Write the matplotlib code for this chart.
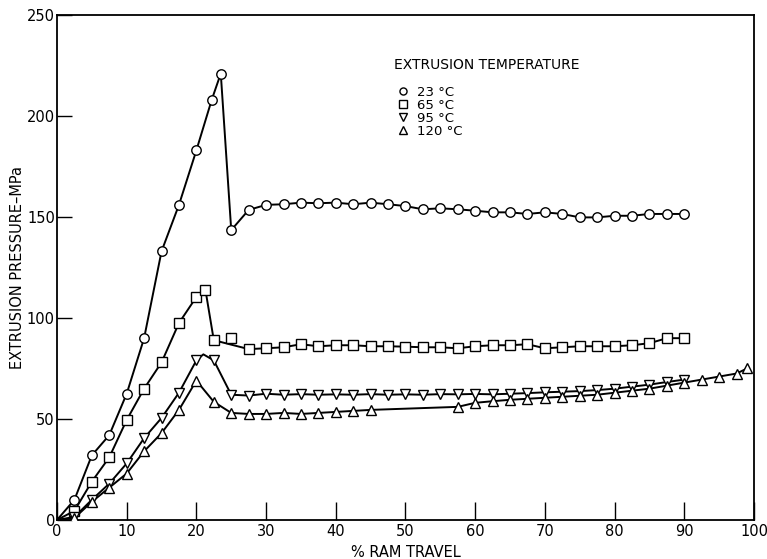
import matplotlib
matplotlib.use('Agg')
import matplotlib.pyplot as plt

# 23 C
x_23 = [2.5, 5, 7.5, 10, 12.5, 15, 17.5, 20, 22.2, 23.5, 25, 27.5, 30,
        32.5, 35, 37.5, 40, 42.5, 45, 47.5, 50, 52.5, 55, 57.5, 60, 62.5,
        65, 67.5, 70, 72.5, 75, 77.5, 80, 82.5, 85, 87.5, 90]
y_23 = [10, 32, 42, 62.5, 90, 133, 156, 183, 208, 221, 143.5, 153.5, 156,
        156.3, 157.1, 156.8, 157.1, 156.3, 157.1, 156.3, 155.4, 153.8, 154.3, 153.8, 153.1, 152.3,
        152.3, 151.5, 152.3, 151.5, 149.8, 149.8, 150.6, 150.6, 151.5, 151.5, 151.5]

# 65 C
x_65 = [2.5, 5, 7.5, 10, 12.5, 15, 17.5, 20, 21.3, 22.5, 25, 27.5, 30,
        32.5, 35, 37.5, 40, 42.5, 45, 47.5, 50, 52.5, 55, 57.5, 60, 62.5,
        65, 67.5, 70, 72.5, 75, 77.5, 80, 82.5, 85, 87.5, 90]
y_65 = [4.5, 19, 31, 49.5, 65, 78, 97.5, 110.4, 113.9, 89, 90, 84.6, 85,
        85.5, 87, 86, 86.5, 86.5, 86, 86, 85.8, 85.5, 85.5, 85, 86, 86.5,
        86.5, 87, 85, 85.5, 86, 86, 86, 86.5, 87.5, 90, 90]
off_curve_65 = [25]  # point plotted off the drawn curve

# 95 C
x_95 = [2.5, 5, 7.5, 10, 12.5, 15, 17.5, 20, 22.5, 25, 27.5, 30,
        32.5, 35, 37.5, 40, 42.5, 45, 47.5, 50, 52.5, 55, 57.5, 60, 62.5,
        65, 67.5, 70, 72.5, 75, 77.5, 80, 82.5, 85, 87.5, 90]
y_95 = [1.5, 10, 18, 28, 40.5, 50.5, 63, 79, 79, 62, 61.6, 62.5,
        62, 62.3, 62, 62.2, 62, 62.3, 62, 62.2, 62, 62.3, 62.2, 62.4, 62.2,
        62.5, 62.8, 63.2, 63.5, 63.8, 64.3, 65, 66, 67, 68.3, 69.5]
peak_95 = (21, 82)  # top of the drawn curve

# 120 C
x_120 = [2.5, 5, 7.5, 10, 12.5, 15, 17.5, 20, 22.5, 25, 27.5, 30,
         32.5, 35, 37.5, 40, 42.5, 45, 57.5, 60, 62.5, 65, 67.5, 70, 72.5,
         75, 77.5, 80, 82.5, 85, 87.5, 90, 92.5, 95, 97.5, 99]
y_120 = [1, 9, 16, 23, 34, 43, 54.5, 69, 58.5, 53, 52.5, 52.5,
         53, 52.5, 53, 53.5, 54, 54.5, 56, 58, 58.8, 59.5, 60, 60.5, 61,
         61.5, 62, 63, 64, 65, 66.5, 68, 69.5, 71, 72.5, 75]

labels = ['23 °C', '65 °C', '95 °C', '120 °C']
markers = ['o', 's', 'v', '^']

plt.rcParams['font.family'] = 'DejaVu Sans'
fig = plt.figure(figsize=(7.67, 5.59), dpi=100)
ax = fig.add_axes([0.0743, 0.0698, 0.9087, 0.9034])

series = [(x_23, y_23), (x_65, y_65), (x_95, y_95), (x_120, y_120)]
for i, (xs, ys) in enumerate(series):
    lx = [0] + [x for x in xs if not (i == 1 and x in off_curve_65)]
    ly = [0] + [y for x, y in zip(xs, ys) if not (i == 1 and x in off_curve_65)]
    if i == 2:
        k = lx.index(22.5)
        lx.insert(k, peak_95[0])
        ly.insert(k, peak_95[1])
    ax.plot(lx, ly, color='black', linewidth=1.4, zorder=2)
    ax.plot(xs, ys, linestyle='none', marker=markers[i], markersize=6.8,
            markerfacecolor='white', markeredgecolor='black',
            markeredgewidth=1.0, zorder=3, label=labels[i])

ax.set_xlim(0, 100)
ax.set_ylim(0, 250)
ax.set_xticks(range(0, 101, 10))
ax.set_yticks(range(0, 251, 50))
ax.tick_params(direction='in', length=13, width=1.0, labelsize=10.5)
ax.tick_params(axis='y', length=11, pad=1.5)
ax.tick_params(axis='x', pad=3)
for s in ax.spines.values():
    s.set_linewidth(1.3)

ax.set_xlabel('% RAM TRAVEL', fontsize=10.5, labelpad=4)
ax.set_ylabel('EXTRUSION PRESSURE–MPa', fontsize=10.5, labelpad=1)

ax.text(48.4, 225, 'EXTRUSION TEMPERATURE', fontsize=10, va='center', ha='left')
leg = ax.legend(loc='upper left', bbox_to_anchor=(0.48, 0.87), frameon=False,
                fontsize=9.5, handlelength=1.0, handletextpad=0.5,
                labelspacing=0.0, markerscale=0.75, borderaxespad=0)

fig.savefig('out.png', dpi=100)
